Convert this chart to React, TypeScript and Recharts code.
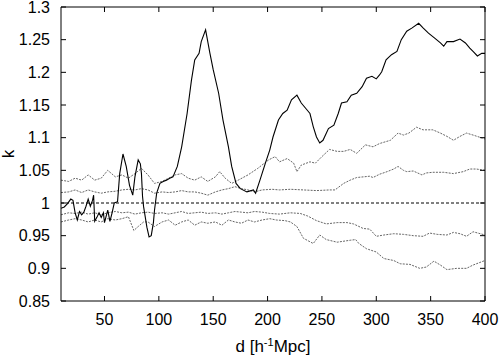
import { LineChart, Line, XAxis, YAxis, ReferenceLine } from "recharts";

// d in h^-1 Mpc, k value
const mainSeries: [number, number][] = [
  [10, 0.992], [13, 0.994], [16, 0.999], [19, 1.006], [21, 1.004], [23, 0.985],
  [25, 0.974], [27, 0.987], [29, 0.982], [31, 0.986], [33, 0.995], [35, 1.006],
  [37, 0.995], [39, 1.004], [40, 1.012], [41, 0.972], [43, 0.978], [45, 0.985],
  [47, 0.978], [49, 0.985], [50, 0.97], [53, 0.989], [55, 0.972], [57, 0.985],
  [59, 1.0], [62, 1.002], [64, 1.045], [67, 1.075], [70, 1.056], [73, 1.027],
  [76, 1.012], [78, 1.04], [81, 1.066], [83, 1.06], [84, 1.045], [85, 1.01],
  [86, 0.994], [89, 0.963], [91, 0.948], [93, 0.95], [95, 0.97], [96, 0.989],
  [98, 1.015], [101, 1.03], [104, 1.033], [107, 1.035], [110, 1.038], [113, 1.04],
  [117, 1.056], [121, 1.086], [126, 1.137], [130, 1.188], [133, 1.219], [137, 1.229],
  [139, 1.247], [143, 1.265], [147, 1.229], [150, 1.204], [155, 1.168], [159, 1.127],
  [164, 1.086], [167, 1.056], [171, 1.03], [175, 1.022], [181, 1.017], [187, 1.02],
  [189, 1.015], [193, 1.035], [198, 1.061], [202, 1.081], [205, 1.101], [210, 1.127],
  [214, 1.137], [218, 1.142], [222, 1.158], [227, 1.165], [231, 1.153], [235, 1.145],
  [239, 1.137], [242, 1.117], [245, 1.101], [248, 1.092], [251, 1.096], [256, 1.114],
  [261, 1.119], [265, 1.137], [268, 1.153], [273, 1.155], [277, 1.165], [282, 1.168],
  [287, 1.178], [291, 1.191], [296, 1.194], [300, 1.19], [303, 1.196], [305, 1.201],
  [309, 1.219], [314, 1.227], [319, 1.232], [323, 1.25], [328, 1.263], [333, 1.268],
  [339, 1.275], [343, 1.268], [348, 1.26], [354, 1.252], [359, 1.245], [362, 1.24],
  [365, 1.247], [371, 1.247], [377, 1.251], [382, 1.245], [386, 1.237], [389, 1.232],
  [393, 1.225], [397, 1.229], [400, 1.229],
];

const upperOuter: [number, number][] = [
  [10, 1.035], [17, 1.033], [23, 1.038], [29, 1.035], [35, 1.043], [41, 1.035],
  [47, 1.038], [53, 1.05], [60, 1.04], [66, 1.043], [72, 1.038], [78, 1.045],
  [84, 1.053], [90, 1.043], [96, 1.03], [103, 1.033], [109, 1.038], [115, 1.043],
  [121, 1.045], [127, 1.038], [133, 1.035], [139, 1.04], [145, 1.033], [152, 1.04],
  [156, 1.048], [161, 1.038], [167, 1.03], [173, 1.035], [182, 1.043], [191, 1.053],
  [201, 1.066], [207, 1.071], [211, 1.063], [218, 1.068], [224, 1.061], [227, 1.048],
  [231, 1.058], [239, 1.063], [244, 1.061], [250, 1.071], [257, 1.082], [264, 1.079],
  [270, 1.079], [276, 1.082], [282, 1.076], [290, 1.089], [297, 1.086], [303, 1.091],
  [313, 1.096], [320, 1.107], [325, 1.104], [330, 1.107], [337, 1.116], [343, 1.112],
  [352, 1.112], [359, 1.107], [365, 1.102], [371, 1.096], [377, 1.102], [383, 1.107],
  [389, 1.104], [400, 1.098],
];

const upperInner: [number, number][] = [
  [10, 1.016], [17, 1.017], [23, 1.02], [29, 1.016], [35, 1.02], [41, 1.017],
  [47, 1.015], [53, 1.017], [60, 1.018], [66, 1.02], [72, 1.021], [78, 1.02],
  [84, 1.022], [90, 1.02], [96, 1.015], [103, 1.017], [109, 1.016], [115, 1.017],
  [121, 1.019], [127, 1.017], [133, 1.017], [139, 1.015], [145, 1.012], [152, 1.017],
  [158, 1.02], [164, 1.022], [170, 1.025], [176, 1.022], [182, 1.02], [188, 1.017],
  [195, 1.02], [204, 1.021], [211, 1.02], [221, 1.021], [233, 1.02], [245, 1.019],
  [257, 1.02], [262, 1.02], [270, 1.03], [276, 1.035], [282, 1.039], [288, 1.04],
  [294, 1.041], [297, 1.039], [303, 1.044], [310, 1.048], [316, 1.052], [320, 1.056],
  [325, 1.05], [328, 1.048], [334, 1.049], [342, 1.043], [346, 1.046], [352, 1.047],
  [362, 1.047], [371, 1.045], [380, 1.048], [386, 1.052], [392, 1.052], [400, 1.05],
];

const lowerInner: [number, number][] = [
  [10, 0.982], [17, 0.985], [23, 0.984], [29, 0.986], [35, 0.983], [41, 0.985],
  [47, 0.982], [53, 0.985], [60, 0.987], [66, 0.985], [72, 0.986], [78, 0.983],
  [84, 0.985], [90, 0.986], [96, 0.984], [103, 0.985], [109, 0.983], [115, 0.985],
  [121, 0.987], [127, 0.984], [133, 0.985], [139, 0.986], [145, 0.984], [152, 0.985],
  [158, 0.983], [164, 0.985], [170, 0.987], [176, 0.986], [182, 0.985], [188, 0.987],
  [195, 0.986], [202, 0.984], [211, 0.983], [221, 0.985], [230, 0.984], [237, 0.98],
  [245, 0.973], [254, 0.968], [264, 0.97], [273, 0.97], [279, 0.968], [288, 0.961],
  [294, 0.96], [300, 0.949], [307, 0.951], [316, 0.953], [325, 0.952], [334, 0.95],
  [343, 0.949], [349, 0.954], [356, 0.952], [365, 0.951], [371, 0.955], [377, 0.953],
  [383, 0.949], [389, 0.956], [400, 0.951],
];

const lowerOuter: [number, number][] = [
  [10, 0.971], [17, 0.974], [23, 0.976], [29, 0.974], [35, 0.971], [41, 0.974],
  [47, 0.971], [53, 0.976], [60, 0.974], [66, 0.976], [72, 0.979], [77, 0.958],
  [81, 0.964], [86, 0.971], [90, 0.971], [96, 0.964], [103, 0.971], [109, 0.974],
  [115, 0.966], [121, 0.971], [127, 0.974], [133, 0.966], [139, 0.971], [145, 0.969],
  [152, 0.971], [158, 0.966], [164, 0.974], [170, 0.971], [176, 0.969], [182, 0.974],
  [188, 0.971], [195, 0.974], [202, 0.976], [208, 0.974], [216, 0.973], [221, 0.971],
  [227, 0.964], [233, 0.946], [242, 0.938], [248, 0.951], [254, 0.944], [264, 0.94],
  [276, 0.943], [281, 0.944], [284, 0.938], [291, 0.93], [300, 0.925], [307, 0.915],
  [316, 0.912], [322, 0.907], [331, 0.906], [340, 0.9], [346, 0.902], [353, 0.911],
  [359, 0.905], [365, 0.898], [374, 0.9], [383, 0.9], [389, 0.905], [400, 0.912],
];

const xTicks = [50, 100, 150, 200, 250, 300, 350, 400];
const yTicks = [0.85, 0.9, 0.95, 1, 1.05, 1.1, 1.15, 1.2, 1.25, 1.3];

const toRows = (pts: [number, number][]) => pts.map(([x, k]) => ({ x, k }));

const FONT = "'Liberation Sans', Arial, Helvetica, sans-serif";
const TICK = 5;

// ticks point into the plot, labels sit outside
function BottomTick({ x, y, payload }: any) {
  return (
    <g>
      <line x1={x} x2={x} y1={y} y2={y - TICK} stroke="#000" />
      <text x={x} y={y + 24} textAnchor="middle" fill="#000" fontSize={16} fontFamily={FONT}>
        {payload.value}
      </text>
    </g>
  );
}

function TopTick({ x, y }: any) {
  return <line x1={x} x2={x} y1={y} y2={y + TICK} stroke="#000" />;
}

function LeftTick({ x, y, payload }: any) {
  return (
    <g>
      <line x1={x} x2={x + TICK} y1={y} y2={y} stroke="#000" />
      <text x={x - 11} y={y} dy="0.36em" textAnchor="end" fill="#000" fontSize={16} fontFamily={FONT}>
        {String(+Number(payload.value).toFixed(2))}
      </text>
    </g>
  );
}

function RightTick({ x, y }: any) {
  return <line x1={x} x2={x - TICK} y1={y} y2={y} stroke="#000" />;
}

function XLabel(props: any) {
  const vb = props.viewBox || {};
  const cx = vb.x + vb.width / 2;
  return (
    <text x={cx} y={vb.y + 51} textAnchor="middle" fill="#000" fontSize={17} fontFamily={FONT}>
      d [h
      <tspan dy={-6} fontSize={11}>
        -1
      </tspan>
      <tspan dy={6}>Mpc]</tspan>
    </text>
  );
}

function YLabel(props: any) {
  const vb = props.viewBox || {};
  const x = vb.x + 8;
  const y = vb.y + vb.height / 2;
  return (
    <text
      x={x}
      y={y}
      transform={`rotate(-90 ${x} ${y})`}
      textAnchor="middle"
      dominantBaseline="central"
      fill="#000"
      fontSize={17}
      fontFamily={FONT}
    >
      k
    </text>
  );
}

const dotted = { stroke: "#666", strokeWidth: 1, strokeDasharray: "2 1.2" };

export default function App() {
  return (
    <div style={{ position: "absolute", left: 0, top: 0, background: "#fff" }}>
      <LineChart width={499} height={357} margin={{ top: 6, right: 13, bottom: 0, left: 0 }}>
        <XAxis
          xAxisId="bottom"
          dataKey="x"
          type="number"
          domain={[10, 400]}
          ticks={xTicks}
          interval={0}
          allowDataOverflow
          height={56}
          tickSize={0}
          tickMargin={0}
          tickLine={false}
          tick={<BottomTick />}
          stroke="#000"
          label={<XLabel />}
        />
        <XAxis
          xAxisId="top"
          orientation="top"
          dataKey="x"
          type="number"
          domain={[10, 400]}
          ticks={xTicks}
          interval={0}
          allowDataOverflow
          height={1}
          tickSize={0}
          tickMargin={0}
          tickLine={false}
          tick={<TopTick />}
          stroke="#000"
        />
        <YAxis
          yAxisId="left"
          type="number"
          domain={[0.85, 1.3]}
          ticks={yTicks}
          interval={0}
          allowDataOverflow
          width={61}
          tickSize={0}
          tickMargin={0}
          tickLine={false}
          tick={<LeftTick />}
          stroke="#000"
          label={<YLabel />}
        />
        <YAxis
          yAxisId="right"
          orientation="right"
          type="number"
          domain={[0.85, 1.3]}
          ticks={yTicks}
          interval={0}
          allowDataOverflow
          width={1}
          tickSize={0}
          tickMargin={0}
          tickLine={false}
          tick={<RightTick />}
          stroke="#000"
        />
        <ReferenceLine xAxisId="bottom" yAxisId="left" y={1} stroke="#000" strokeDasharray="3 2" />
        <Line xAxisId="bottom" yAxisId="left" data={toRows(upperOuter)} dataKey="k" dot={false} isAnimationActive={false} {...dotted} />
        <Line xAxisId="bottom" yAxisId="left" data={toRows(upperInner)} dataKey="k" dot={false} isAnimationActive={false} {...dotted} />
        <Line xAxisId="bottom" yAxisId="left" data={toRows(lowerInner)} dataKey="k" dot={false} isAnimationActive={false} {...dotted} />
        <Line xAxisId="bottom" yAxisId="left" data={toRows(lowerOuter)} dataKey="k" dot={false} isAnimationActive={false} {...dotted} />
        <Line
          xAxisId="bottom"
          yAxisId="left"
          data={toRows(mainSeries)}
          dataKey="k"
          dot={false}
          stroke="#000"
          strokeWidth={1.1}
          isAnimationActive={false}
        />
      </LineChart>
    </div>
  );
}
